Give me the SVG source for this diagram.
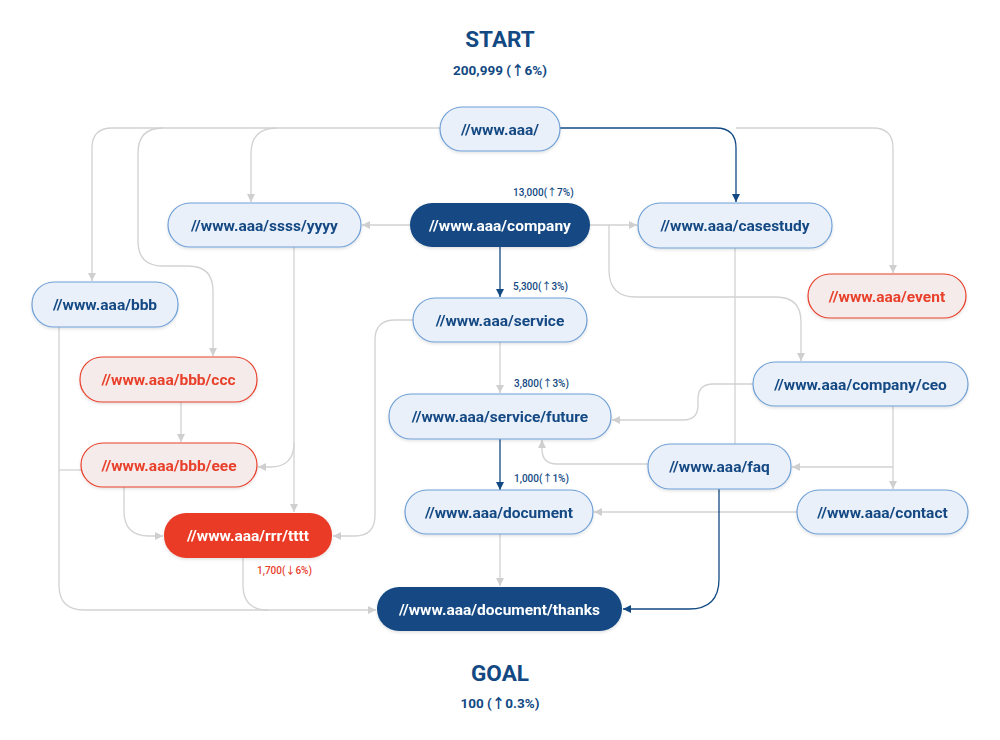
<svg xmlns="http://www.w3.org/2000/svg" width="1000" height="740" viewBox="0 0 1000 740">
<defs>
<style>
text{font-family:Roboto,"Noto Sans","Noto Sans CJK JP",sans-serif;font-weight:700}
.nl{fill:#eaf0fa;stroke:#6fa0d6;stroke-width:1.2}
.nd{fill:#124983}
.nr{fill:#f5ebea;stroke:#e8402b;stroke-width:1.2}
.nrs{fill:#e93b26}
.t{font-size:15.5px;text-anchor:middle;fill:#124983}
.tw{font-size:15.5px;text-anchor:middle;fill:#ffffff}
.tr{font-size:15.5px;text-anchor:middle;fill:#e8402b}
.s{font-size:10px;font-weight:500;fill:#124983}
.sr{font-size:10px;font-weight:500;fill:#e8402b}
.g{fill:none;stroke:#d2d2d2;stroke-width:1.3}
.b{fill:none;stroke:#124983;stroke-width:1.3}
.h1{font-size:22.5px;text-anchor:middle;fill:#124983}
.h2{font-size:13.5px;text-anchor:middle;fill:#124983}
</style>
<marker id="ag" viewBox="0 0 8 8" refX="8" refY="4" markerWidth="8" markerHeight="8" markerUnits="userSpaceOnUse" orient="auto"><path d="M0,0 L8,4 L0,8 z" fill="#cfcfcf"/></marker>
<marker id="ab" viewBox="0 0 8 8" refX="8" refY="4" markerWidth="8" markerHeight="8" markerUnits="userSpaceOnUse" orient="auto"><path d="M0,0 L8,4 L0,8 z" fill="#124983"/></marker>
<filter id="sh" x="-10%" y="-20%" width="120%" height="150%"><feDropShadow dx="0" dy="1.5" stdDeviation="1.5" flood-color="#000" flood-opacity="0.12"/></filter>
</defs>
<rect width="1000" height="740" fill="#ffffff"/>

<g id="titles">
<text class="h1" x="500" y="47">START</text>
<text class="h2" x="500" y="75">200,999 (↑6%)</text>
<text class="h1" x="500" y="681">GOAL</text>
<text class="h2" x="500" y="708">100 (↑0.3%)</text>
</g>

<g id="connectors">
<path class="b" d="M560,128 H716 Q736,128 736,148 V202" marker-end="url(#ab)"/>
<path class="g" d="M736,128 H873 Q893,128 893,148 V273" marker-end="url(#ag)"/>
<path class="g" d="M440,128 H112 Q92,128 92,148 V281" marker-end="url(#ag)"/>
<path class="g" d="M277,128 Q251,128 251,154 V202" marker-end="url(#ag)"/>
<path class="g" d="M163,128 Q138,128 138,153 V241 Q138,266 163,266 H188 Q213,266 213,291 V356" marker-end="url(#ag)"/>
<path class="g" d="M410,225 H362" marker-end="url(#ag)"/>
<path class="g" d="M590,225 H637" marker-end="url(#ag)"/>
<path class="g" d="M609,225 V270 Q609,297 636,297 H776 Q801,297 801,322 V361" marker-end="url(#ag)"/>
<path class="b" d="M500,247 V297" marker-end="url(#ab)"/>
<path class="g" d="M294,247 V512" marker-end="url(#ag)"/>
<path class="g" d="M294,443 Q294,467 270,467 H258" marker-end="url(#ag)"/>
<path class="g" d="M413,320 H395 Q375,320 375,340 V515 Q375,536 355,536 H333" marker-end="url(#ag)"/>
<path class="g" d="M500,342 V393" marker-end="url(#ag)"/>
<path class="g" d="M59,327 V585 Q59,610 84,610 H376" marker-end="url(#ag)"/>
<path class="g" d="M81,470 H59"/>
<path class="g" d="M181,402 V442" marker-end="url(#ag)"/>
<path class="g" d="M124,487 V511 Q124,536 149,536 H163" marker-end="url(#ag)"/>
<path class="g" d="M243,558 V585 Q243,610 268,610"/>
<path class="b" d="M500,439 V490" marker-end="url(#ab)"/>
<path class="g" d="M753,384 H713 Q698,384 698,399 V405 Q698,420 683,420 H612" marker-end="url(#ag)"/>
<path class="g" d="M893,406 V489" marker-end="url(#ag)"/>
<path class="g" d="M893,467 H792" marker-end="url(#ag)"/>
<path class="g" d="M648,464 H557 Q542,464 542,449 V440" marker-end="url(#ag)"/>
<path class="g" d="M735,248 V444"/>
<path class="g" d="M797,512 H594" marker-end="url(#ag)"/>
<path class="b" d="M719,489 V579 Q719,609 689,609 H623" marker-end="url(#ab)"/>
<path class="g" d="M500,534 V586" marker-end="url(#ag)"/>
</g>

<g id="n-root" filter="url(#sh)"><rect class="nl" x="440" y="107" width="120" height="44" rx="22"/><text class="t" x="500" y="134.5">//www.aaa/</text></g>
<g id="n-ssss" filter="url(#sh)"><rect class="nl" x="168" y="203" width="193" height="44" rx="22"/><text class="t" x="264.5" y="230.5">//www.aaa/ssss/yyyy</text></g>
<g id="n-company" filter="url(#sh)"><rect class="nd" x="410" y="203" width="180" height="44" rx="22"/><text class="tw" x="500" y="230.5">//www.aaa/company</text></g>
<g id="n-casestudy" filter="url(#sh)"><rect class="nl" x="638" y="203" width="194" height="45" rx="22"/><text class="t" x="735" y="230.5">//www.aaa/casestudy</text></g>
<g id="n-bbb" filter="url(#sh)"><rect class="nl" x="32" y="282" width="146" height="45" rx="22"/><text class="t" x="105" y="310">//www.aaa/bbb</text></g>
<g id="n-event" filter="url(#sh)"><rect class="nr" x="808" y="274" width="158" height="44" rx="22"/><text class="tr" x="887" y="301.5">//www.aaa/event</text></g>
<g id="n-service" filter="url(#sh)"><rect class="nl" x="413" y="298" width="174" height="44" rx="22"/><text class="t" x="500" y="325.5">//www.aaa/service</text></g>
<g id="n-ccc" filter="url(#sh)"><rect class="nr" x="80" y="357" width="177" height="45" rx="22"/><text class="tr" x="168.5" y="385">//www.aaa/bbb/ccc</text></g>
<g id="n-ceo" filter="url(#sh)"><rect class="nl" x="753" y="362" width="215" height="44" rx="22"/><text class="t" x="860.5" y="389.5">//www.aaa/company/ceo</text></g>
<g id="n-future" filter="url(#sh)"><rect class="nl" x="389" y="394" width="222" height="45" rx="22"/><text class="t" x="500" y="422">//www.aaa/service/future</text></g>
<g id="n-eee" filter="url(#sh)"><rect class="nr" x="81" y="443" width="176" height="44" rx="22"/><text class="tr" x="169" y="470.5">//www.aaa/bbb/eee</text></g>
<g id="n-faq" filter="url(#sh)"><rect class="nl" x="648" y="444" width="143" height="45" rx="22"/><text class="t" x="719.5" y="472">//www.aaa/faq</text></g>
<g id="n-document" filter="url(#sh)"><rect class="nl" x="405" y="490" width="188" height="44" rx="22"/><text class="t" x="499" y="517.5">//www.aaa/document</text></g>
<g id="n-contact" filter="url(#sh)"><rect class="nl" x="797" y="490" width="171" height="44" rx="22"/><text class="t" x="882.5" y="517.5">//www.aaa/contact</text></g>
<g id="n-tttt" filter="url(#sh)"><rect class="nrs" x="164" y="513" width="168" height="45" rx="22"/><text class="tw" x="248" y="541">//www.aaa/rrr/tttt</text></g>
<g id="n-thanks" filter="url(#sh)"><rect class="nd" x="377" y="587" width="245" height="44" rx="22"/><text class="tw" x="499.5" y="614.5">//www.aaa/document/thanks</text></g>

<g id="labels">
<text class="s" x="513" y="196">13,000(↑7%)</text>
<text class="s" x="513" y="290">5,300(↑3%)</text>
<text class="s" x="514" y="387">3,800(↑3%)</text>
<text class="s" x="514" y="482">1,000(↑1%)</text>
<text class="sr" x="257" y="574">1,700(↓6%)</text>
</g>
</svg>
